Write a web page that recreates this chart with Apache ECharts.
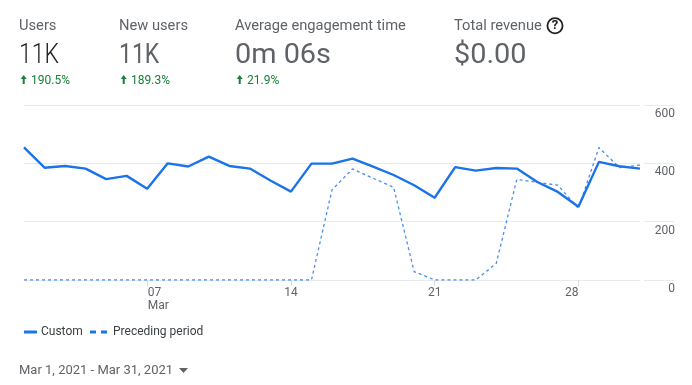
<!DOCTYPE html>
<html><head><meta charset="utf-8">
<style>html,body{margin:0;padding:0;background:#fff}#c{width:692px;height:385px}</style>
<script src="https://cdn.jsdelivr.net/npm/echarts@6/dist/echarts.min.js"></script></head>
<body><div id="c"></div>
<script>
const days = ['01','02','03','04','05','06','07','08','09','10','11','12','13','14','15','16','17','18','19','20','21','22','23','24','25','26','27','28','29','30','31'];
const custom = [455,385,391,382,346,357,313,400,389,423,391,382,341,303,399,399,416,389,360,325,282,387,375,384,382,336,302,251,405,390,382];
const preceding = [0,0,0,0,0,0,0,0,0,0,0,0,0,0,0,309,381,349,318,29,0,0,0,57,345,335,325,246,454,385,394];
const yTicks = [0,200,400,600];
const metricNames = ['Users','New users','Average engagement time','Total revenue'];
const metricValues = ['11K','11K','0m 06s','$0.00'];
const metricChanges = ['190.5%','189.3%','21.9%',''];
const dateRange = 'Mar 1, 2021 - Mar 31, 2021';
const metricX = [19,119,235,454];
const FONT = 'Roboto, sans-serif';
const GREEN = '#188038', BLUE = '#1a73e8', LINE = '#e8eaed';

const graphic = [];
metricNames.forEach((n,i)=>{
  graphic.push({type:'text',left:metricX[i],top:18.5,style:{text:n,fontFamily:FONT,fontSize:14.7,fill:'#5f6368'}});
  const isK = metricValues[i]==='11K';
  graphic.push({type:'text',x:metricX[i],y:42,scaleX:isK?0.82:1.03,originX:0,style:{text:metricValues[i],fontFamily:FONT,fontSize:28,fontWeight:i===0?300:400,fill:i===0?'#202124':'#5f6368'}});
  if(metricChanges[i]){
    graphic.push({type:'text',left:metricX[i]+12,top:74.5,style:{text:metricChanges[i],fontFamily:FONT,fontSize:12,fill:GREEN}});
    const x=metricX[i]+4.7;
    graphic.push({type:'polygon',shape:{points:[[x,75],[x+3,79],[x+1,79],[x+1,84],[x-1,84],[x-1,79],[x-3,79]]},style:{fill:GREEN}});
  }
});
graphic.push({type:'circle',shape:{cx:555,cy:25.7,r:7.6},style:{fill:'#fff',stroke:'#202124',lineWidth:1.8}});
graphic.push({type:'text',x:555,y:26,style:{text:'?',fontFamily:FONT,fontSize:13,fontWeight:'bold',fill:'#202124',align:'center',verticalAlign:'middle'}});
graphic.push({type:'text',left:19,top:364,style:{text:dateRange,fontFamily:FONT,fontSize:13,fill:'#5f6368'}});
graphic.push({type:'polygon',shape:{points:[[179,368],[188,368],[183.5,373]]},style:{fill:'#5f6368'}});

const tickShown = (i)=>['07','14','21','28'].includes(days[i]);
const legendText = (p)=>({fontFamily:FONT,fontSize:12,color:'#3c4043',padding:[0,0,0,p]});
const chart = echarts.init(document.getElementById('c'));
chart.setOption({
  animation:false,
  textStyle:{fontFamily:FONT},
  grid:[{left:24,right:52,top:105,height:175},{left:644,right:18,top:105,height:175}],
  legend:[
    {left:19,top:321,itemWidth:13,itemHeight:3,textStyle:legendText(-1),
      data:[{name:'Custom',icon:'path://M0 0H13V3H0Z'}]},
    {left:85,top:321,itemWidth:17,itemHeight:3,textStyle:legendText(1),
      data:[{name:'Preceding period',icon:'path://M0 0H6V3H0Z M11 0H17V3H11Z'}]}],
  xAxis:[{type:'category',gridIndex:0,data:days,boundaryGap:false,
    axisLine:{lineStyle:{color:LINE}},
    axisTick:{show:true,length:6,interval:(i)=>tickShown(i),lineStyle:{color:'#dadce0'}},
    axisLabel:{interval:(i)=>tickShown(i),margin:6,color:'#5f6368',fontSize:12,fontFamily:FONT,lineHeight:13,
      formatter:(v)=> v==='07' ? '{l|07}\n{l|Mar}' : v==='28' ? '{r|28}' : '{c|'+v+'}',
      rich:{l:{width:40,align:'left',padding:[0,0,0,41],color:'#5f6368',fontSize:12,lineHeight:13},
            r:{width:14,align:'left',padding:[0,13,0,0],color:'#5f6368',fontSize:12,lineHeight:13},
            c:{color:'#5f6368',fontSize:12,lineHeight:13}}},
    splitLine:{show:false}},
    {type:'value',gridIndex:1,min:0,max:1,show:false}],
  yAxis:[{type:'value',gridIndex:0,min:0,max:600,interval:200,axisLabel:{show:false},axisLine:{show:false},axisTick:{show:false},
      splitLine:{lineStyle:{color:LINE}}},
    {type:'value',gridIndex:1,min:0,max:600,interval:200,position:'right',
      axisLine:{show:false},axisTick:{show:false},splitLine:{lineStyle:{color:LINE}},
      axisLabel:{inside:true,margin:-1,verticalAlign:'top',padding:[3,0,0,0],color:'#5f6368',fontSize:12,fontFamily:FONT,
        customValues:yTicks}}],
  series:[
    {name:'Preceding period',type:'line',xAxisIndex:0,yAxisIndex:0,data:preceding,symbol:'none',z:2,
      lineStyle:{color:BLUE,width:1.3,type:[3,3],opacity:0.8},itemStyle:{color:BLUE}},
    {name:'Custom',type:'line',xAxisIndex:0,yAxisIndex:0,data:custom,symbol:'none',z:3,
      lineStyle:{color:BLUE,width:2.4},itemStyle:{color:BLUE}}
  ],
  graphic
});
</script></body></html>
